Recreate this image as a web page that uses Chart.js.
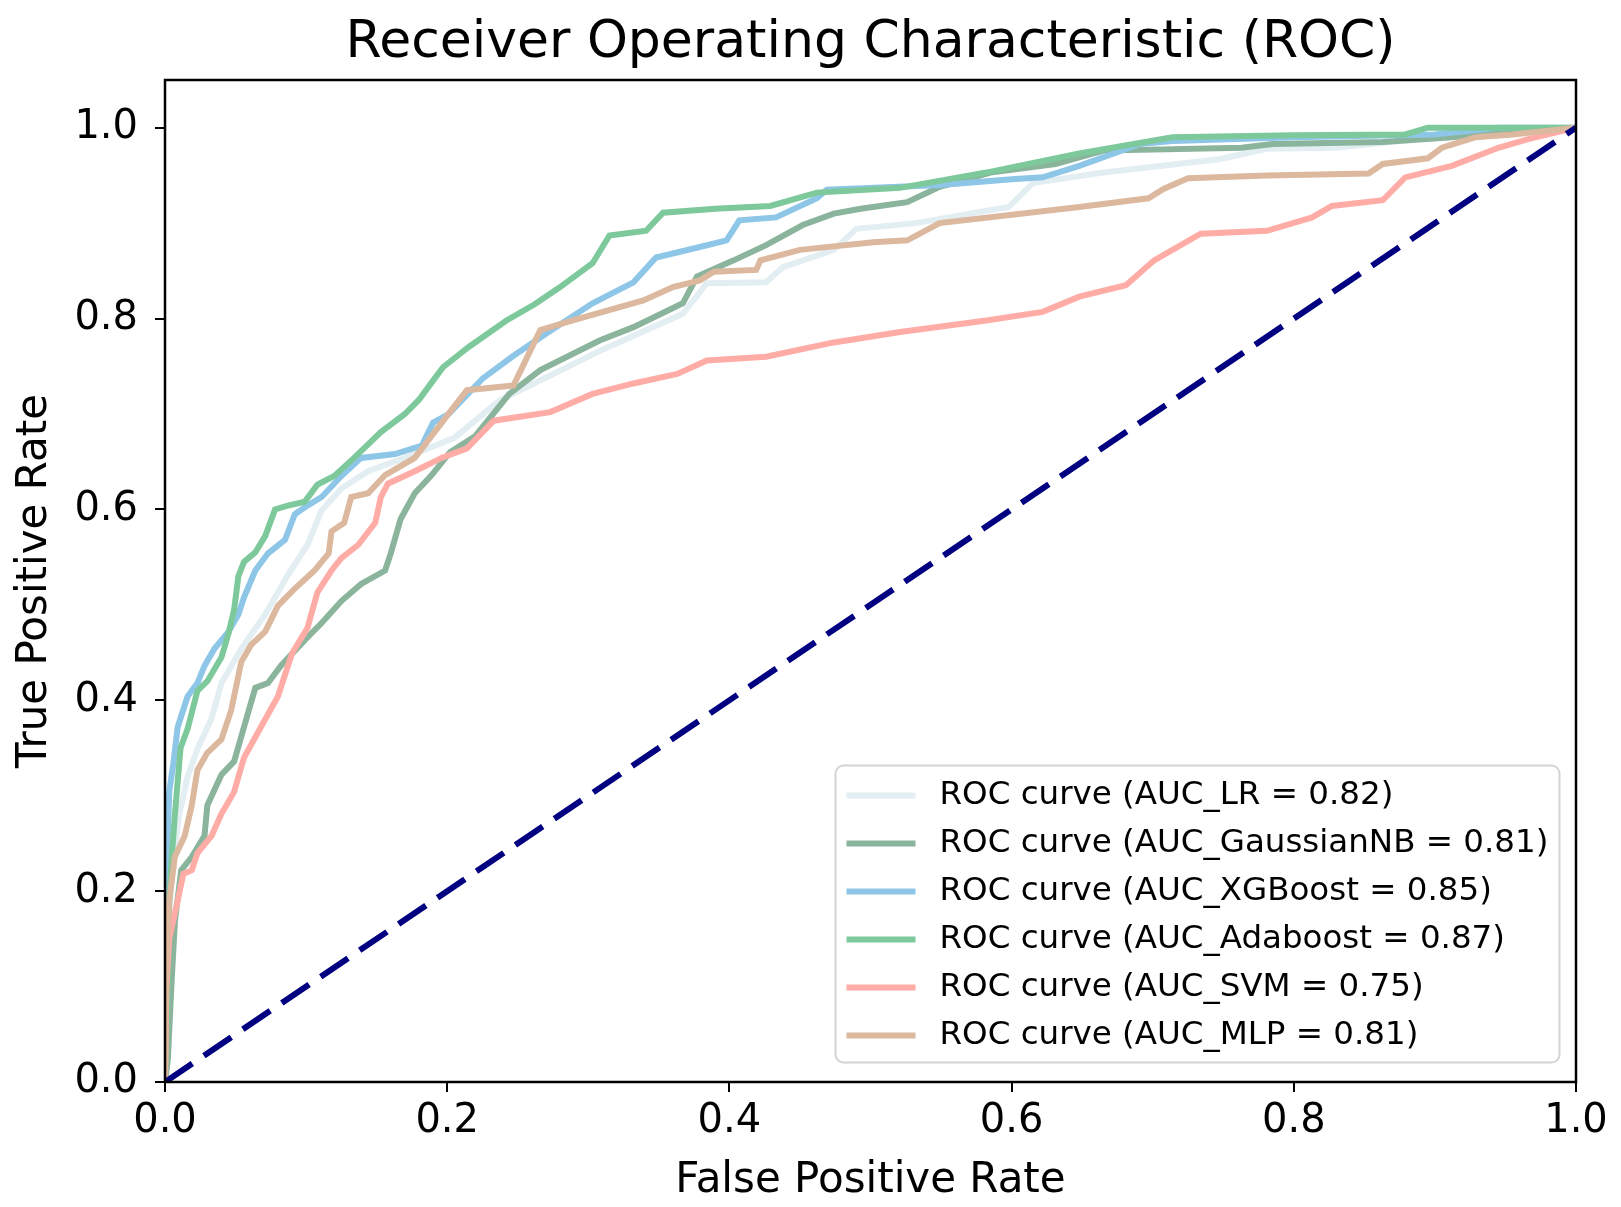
<!DOCTYPE html>
<html>
<head>
<meta charset="utf-8">
<script src="https://cdn.jsdelivr.net/npm/chart.js@4.4.0/dist/chart.umd.min.js"></script>
<style>
  html, body { margin: 0; padding: 0; background: #fff; }
  #wrap { width: 1621px; height: 1207px; }
</style>
</head>
<body>
<div id="wrap"><canvas id="roc"></canvas></div>
<script>
// ROC curves, values
var modelNames = ['LR', 'GaussianNB', 'XGBoost', 'Adaboost', 'SVM', 'MLP'];
var aucValues = [0.82, 0.81, 0.85, 0.87, 0.75, 0.81];
var lineColors = ['#e3eef2', '#8ab49b', '#8ec6e8', '#7dc99b', '#ffaca7', '#dcb89e'];

var lrFpr = [0, 0.002, 0.005, 0.010, 0.016, 0.023, 0.033, 0.040, 0.054, 0.071, 0.087, 0.101, 0.111, 0.125, 0.144, 0.170, 0.205, 0.237, 0.308, 0.367, 0.384, 0.426, 0.438, 0.474, 0.490, 0.532, 0.598, 0.615, 0.665, 0.747, 0.781, 0.830, 0.900, 1.0];
var lrTpr = [0, 0.15, 0.22, 0.28, 0.32, 0.349, 0.381, 0.418, 0.454, 0.490, 0.531, 0.563, 0.599, 0.622, 0.640, 0.654, 0.675, 0.714, 0.766, 0.805, 0.837, 0.838, 0.854, 0.872, 0.894, 0.900, 0.917, 0.942, 0.953, 0.967, 0.978, 0.979, 0.990, 1.0];

var gnbFpr = [0, 0.002, 0.0045, 0.007, 0.0115, 0.019, 0.028, 0.030, 0.040, 0.049, 0.056, 0.064, 0.073, 0.082, 0.099, 0.111, 0.125, 0.139, 0.156, 0.160, 0.167, 0.177, 0.189, 0.202, 0.220, 0.244, 0.266, 0.308, 0.332, 0.367, 0.377, 0.403, 0.426, 0.452, 0.474, 0.493, 0.526, 0.549, 0.585, 0.631, 0.665, 0.763, 0.785, 0.863, 0.912, 0.950, 1.0];
var gnbTpr = [0, 0.023, 0.10, 0.168, 0.222, 0.236, 0.258, 0.290, 0.322, 0.336, 0.372, 0.413, 0.418, 0.436, 0.463, 0.481, 0.504, 0.522, 0.536, 0.554, 0.590, 0.617, 0.636, 0.660, 0.677, 0.721, 0.746, 0.777, 0.791, 0.816, 0.844, 0.861, 0.877, 0.898, 0.910, 0.915, 0.922, 0.938, 0.953, 0.962, 0.976, 0.979, 0.983, 0.985, 0.990, 0.995, 1.0];

var xgbFpr = [0, 0.001, 0.002, 0.003, 0.006, 0.009, 0.016, 0.023, 0.028, 0.035, 0.045, 0.052, 0.056, 0.064, 0.073, 0.085, 0.092, 0.101, 0.111, 0.125, 0.139, 0.163, 0.182, 0.190, 0.201, 0.225, 0.247, 0.270, 0.303, 0.332, 0.348, 0.379, 0.398, 0.407, 0.433, 0.462, 0.469, 0.550, 0.600, 0.622, 0.648, 0.691, 0.714, 0.800, 0.900, 0.945, 1.0];
var xgbTpr = [0, 0.20, 0.258, 0.304, 0.335, 0.372, 0.404, 0.418, 0.436, 0.454, 0.472, 0.490, 0.508, 0.536, 0.554, 0.568, 0.595, 0.604, 0.613, 0.635, 0.654, 0.658, 0.667, 0.691, 0.700, 0.737, 0.761, 0.784, 0.816, 0.838, 0.864, 0.875, 0.882, 0.903, 0.906, 0.926, 0.935, 0.940, 0.946, 0.948, 0.960, 0.983, 0.986, 0.990, 0.993, 1.0, 1.0];

var adaFpr = [0, 0.002, 0.003, 0.005, 0.007, 0.011, 0.016, 0.023, 0.030, 0.040, 0.045, 0.049, 0.052, 0.056, 0.064, 0.071, 0.078, 0.087, 0.099, 0.108, 0.120, 0.134, 0.153, 0.170, 0.180, 0.190, 0.197, 0.215, 0.242, 0.262, 0.280, 0.303, 0.315, 0.341, 0.353, 0.390, 0.429, 0.462, 0.521, 0.582, 0.648, 0.714, 0.800, 0.879, 0.895, 1.0];
var adaTpr = [0, 0.12, 0.19, 0.24, 0.28, 0.35, 0.37, 0.41, 0.42, 0.445, 0.47, 0.495, 0.53, 0.545, 0.555, 0.572, 0.60, 0.604, 0.608, 0.626, 0.635, 0.654, 0.681, 0.700, 0.715, 0.735, 0.749, 0.770, 0.798, 0.815, 0.833, 0.858, 0.887, 0.892, 0.911, 0.915, 0.918, 0.932, 0.937, 0.953, 0.973, 0.990, 0.992, 0.993, 1.0, 1.0];

var svmFpr = [0, 0.001, 0.003, 0.009, 0.013, 0.019, 0.023, 0.033, 0.040, 0.049, 0.056, 0.068, 0.080, 0.090, 0.101, 0.108, 0.118, 0.125, 0.137, 0.149, 0.153, 0.158, 0.177, 0.196, 0.214, 0.233, 0.273, 0.303, 0.332, 0.363, 0.384, 0.426, 0.474, 0.521, 0.582, 0.622, 0.648, 0.681, 0.701, 0.734, 0.781, 0.813, 0.827, 0.863, 0.879, 0.912, 0.945, 0.966, 1.0];
var svmTpr = [0, 0.10, 0.15, 0.19, 0.218, 0.222, 0.240, 0.258, 0.281, 0.304, 0.340, 0.372, 0.404, 0.449, 0.476, 0.513, 0.536, 0.549, 0.563, 0.586, 0.613, 0.627, 0.640, 0.654, 0.664, 0.693, 0.702, 0.721, 0.732, 0.742, 0.756, 0.760, 0.775, 0.786, 0.798, 0.807, 0.823, 0.835, 0.861, 0.889, 0.892, 0.906, 0.918, 0.924, 0.948, 0.960, 0.979, 0.988, 1.0];

var mlpFpr = [0, 0.001, 0.003, 0.007, 0.014, 0.019, 0.023, 0.030, 0.040, 0.047, 0.054, 0.061, 0.071, 0.080, 0.092, 0.106, 0.116, 0.118, 0.127, 0.132, 0.144, 0.156, 0.177, 0.191, 0.205, 0.214, 0.247, 0.266, 0.289, 0.339, 0.360, 0.379, 0.389, 0.419, 0.422, 0.450, 0.502, 0.526, 0.549, 0.648, 0.697, 0.708, 0.725, 0.781, 0.853, 0.863, 0.895, 0.905, 0.929, 0.955, 1.0];
var mlpTpr = [0, 0.12, 0.19, 0.236, 0.258, 0.290, 0.327, 0.345, 0.359, 0.390, 0.440, 0.458, 0.472, 0.499, 0.517, 0.536, 0.554, 0.577, 0.586, 0.613, 0.617, 0.636, 0.654, 0.681, 0.708, 0.725, 0.730, 0.788, 0.798, 0.819, 0.833, 0.840, 0.849, 0.851, 0.861, 0.872, 0.880, 0.882, 0.900, 0.917, 0.926, 0.936, 0.947, 0.950, 0.952, 0.962, 0.968, 0.979, 0.990, 0.993, 1.0];

var chanceFpr = [0, 1];
var chanceTpr = [0, 1];

var tickValues = [0, 0.2, 0.4, 0.6, 0.8, 1.0];

var fprList = [lrFpr, gnbFpr, xgbFpr, adaFpr, svmFpr, mlpFpr];
var tprList = [lrTpr, gnbTpr, xgbTpr, adaTpr, svmTpr, mlpTpr];

function toPoints(xs, ys) {
    return xs.map(function(x, i) { return {x: x, y: ys[i]}; });
}

var FONT = 'DejaVu Sans';
var titleText = 'Receiver Operating Characteristic (ROC)';

var datasets = modelNames.map(function(name, i) {
    return {
        label: 'ROC curve (AUC_' + name + ' = ' + aucValues[i].toFixed(2) + ')',
        data: toPoints(fprList[i], tprList[i]),
        borderColor: lineColors[i],
        backgroundColor: lineColors[i],
        borderWidth: 6,
        pointRadius: 0,
        tension: 0,
        order: 10 - i
    };
});
datasets.push({
    label: 'chance',
    data: toPoints(chanceFpr, chanceTpr),
    borderColor: '#000080',
    borderWidth: 6,
    borderDash: [33, 14],
    pointRadius: 0,
    order: 0
});

// title over the plot, top/right spines and the boxed legend inside the plot
var framePlugin = {
    id: 'frame',
    afterDraw: function(chart) {
        var ctx = chart.ctx, a = chart.chartArea;
        ctx.save();
        ctx.strokeStyle = '#000';
        ctx.lineWidth = 2.5;
        ctx.strokeRect(a.left, a.top, a.right - a.left, a.bottom - a.top);

        ctx.fillStyle = '#000';
        ctx.font = '52px "' + FONT + '"';
        ctx.textAlign = 'center';
        ctx.textBaseline = 'middle';
        ctx.fillText(titleText, (a.left + a.right) / 2, 43);

        var boxW = 724, boxH = 297;
        var bx = a.right - 16.5 - boxW, by = a.bottom - 19.5 - boxH;
        ctx.beginPath();
        ctx.roundRect(bx, by, boxW, boxH, 8);
        ctx.fillStyle = 'rgba(255,255,255,0.8)';
        ctx.fill();
        ctx.strokeStyle = '#d4d4d4';
        ctx.lineWidth = 2;
        ctx.stroke();

        ctx.font = '32.5px "' + FONT + '"';
        ctx.textBaseline = 'middle';
        ctx.textAlign = 'left';
        for (var i = 0; i < modelNames.length; i++) {
            var ds = chart.data.datasets[i];
            var rowY = by + 30 + i * 48;
            ctx.strokeStyle = ds.borderColor;
            ctx.lineWidth = 6;
            ctx.beginPath();
            ctx.moveTo(bx + 11, rowY);
            ctx.lineTo(bx + 80, rowY);
            ctx.stroke();
            ctx.fillStyle = '#000';
            ctx.fillText(ds.label, bx + 104, rowY);
        }
        ctx.restore();
    }
};

var ctx = document.getElementById('roc').getContext('2d');
new Chart(ctx, {
    type: 'line',
    data: { datasets: datasets },
    options: {
        responsive: true,
        maintainAspectRatio: false,
        animation: false,
        devicePixelRatio: 1,
        layout: { padding: { left: 0, right: 45, top: 80, bottom: 0 } },
        scales: {
            x: {
                type: 'linear',
                min: 0,
                max: 1,
                afterBuildTicks: function(scale) {
                    scale.ticks = tickValues.map(function(v) { return {value: v}; });
                },
                afterFit: function(scale) { scale.height = 125; },
                ticks: {
                    callback: function(value) { return Number(value).toFixed(1); },
                    color: '#000',
                    font: { family: FONT, size: 40 },
                    padding: 6,
                    maxRotation: 0
                },
                grid: { display: true, drawOnChartArea: false, drawTicks: true, tickLength: 10, color: '#000', lineWidth: 2 },
                border: { display: false },
                title: { display: true, text: 'False Positive Rate', color: '#000', font: { family: FONT, size: 42 }, padding: { top: 0, bottom: 1 } }
            },
            y: {
                type: 'linear',
                min: 0,
                max: 1.05,
                afterBuildTicks: function(scale) {
                    scale.ticks = tickValues.map(function(v) { return {value: v}; });
                },
                afterFit: function(scale) { scale.width = 165; },
                ticks: {
                    callback: function(value) { return Number(value).toFixed(1); },
                    color: '#000',
                    font: { family: FONT, size: 40 },
                    padding: 17
                },
                grid: { display: true, drawOnChartArea: false, drawTicks: true, tickLength: 10, color: '#000', lineWidth: 2 },
                border: { display: false },
                title: { display: true, text: 'True Positive Rate', color: '#000', font: { family: FONT, size: 42 }, padding: { top: 10, bottom: 0 } }
            }
        },
        plugins: {
            legend: { display: false },
            tooltip: { enabled: false },
            title: { display: false }
        }
    },
    plugins: [framePlugin]
});
</script>
</body>
</html>
